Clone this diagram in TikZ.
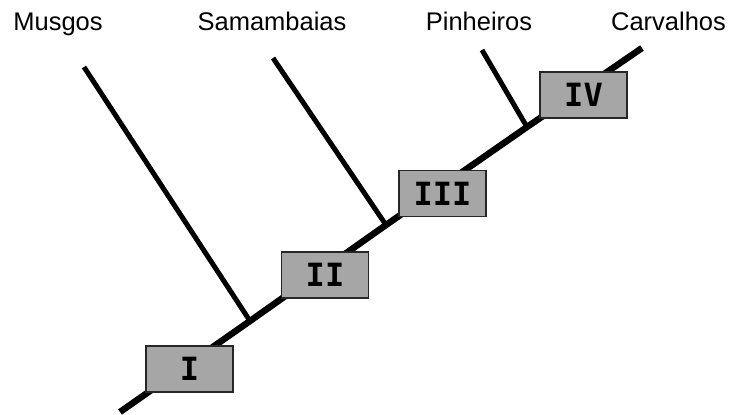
\documentclass[tikz,border=0pt]{standalone}
\usepackage{fontspec}
\setmainfont{Liberation Sans}
\newfontfamily\numfont{DejaVu Sans Mono}
\definecolor{boxgray}{HTML}{A6A6A6}
\begin{document}
\begin{tikzpicture}[x=1pt,y=-1pt,
  trunk/.style={line width=6.5pt},
  branch/.style={line width=5pt},
  boxnode/.style={draw=black!85,line width=1.2pt,fill=boxgray,minimum width=87pt,minimum height=46pt,inner sep=0pt,font=\numfont\bfseries\fontsize{32}{32}\selectfont},
  taxon/.style={font=\fontsize{25.5}{26}\selectfont,anchor=base,inner sep=0pt}]
\useasboundingbox (0,0) rectangle (731,415);
% coordinates
\coordinate (root) at (120,412);
\coordinate (j1) at (250,321);
\coordinate (j2) at (386,225);
\coordinate (j3) at (527,127);
\coordinate (tipC) at (642,48);
\coordinate (tipM) at (84,67);
\coordinate (tipS) at (273,58);
\coordinate (tipP) at (482,50);
% lines
\draw[trunk] (root) -- (j1) -- (j2) -- (j3) -- (tipC);
\draw[branch] (j1) -- (tipM);
\draw[branch] (j2) -- (tipS);
\draw[branch] (j3) -- (tipP);
% boxes
\node[boxnode] (b1) at (189.5,369) {I};
\node[boxnode] (b2) at (325,275) {II};
\node[boxnode] (b3) at (442.5,193.5) {III};
\node[boxnode] (b4) at (583.5,95) {IV};
% labels
\node[taxon] (lM) at (58,30.5) {Musgos};
\node[taxon] (lS) at (272,30.5) {Samambaias};
\node[taxon] (lP) at (479,30.5) {Pinheiros};
\node[taxon] (lC) at (668.5,30.5) {Carvalhos};
\end{tikzpicture}
\end{document}
